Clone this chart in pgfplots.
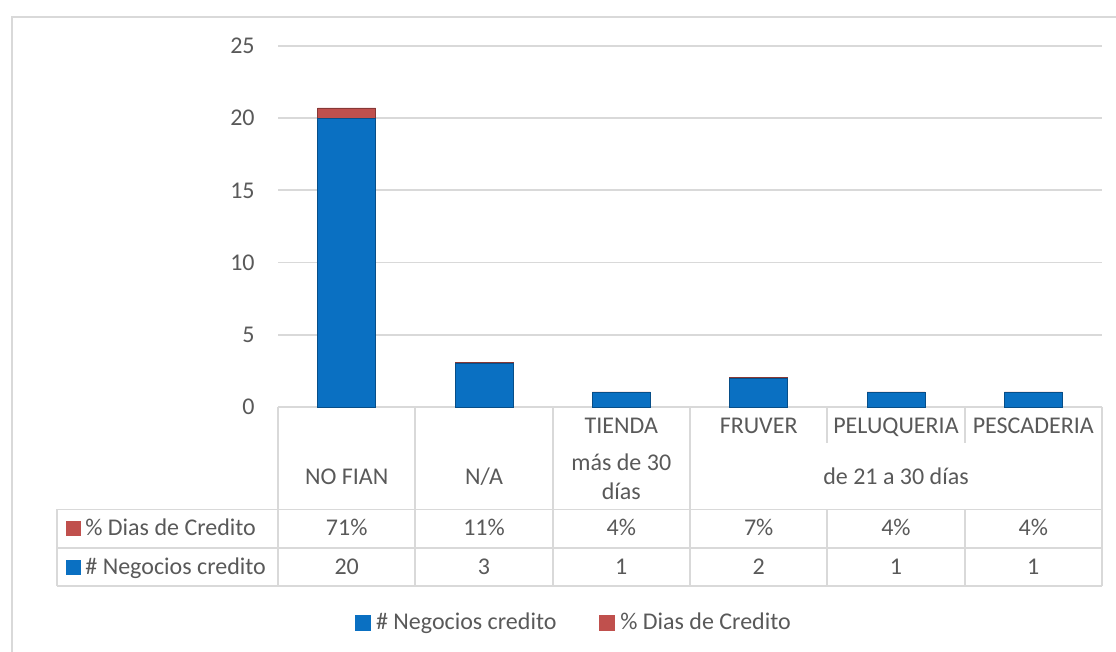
\documentclass[border=0pt]{standalone}
\usepackage{pgfplots}
\pgfplotsset{compat=1.18}
\usepackage{fontspec}
\setmainfont{Carlito}
\definecolor{txt}{HTML}{595959}
\definecolor{grd}{HTML}{D9D9D9}
\definecolor{barblue}{HTML}{0A70C2}
\definecolor{barred}{HTML}{C0504D}
\newcommand{\cf}{\fontsize{12bp}{14.5bp}\selectfont}
\begin{document}
\begin{tikzpicture}[font=\cf, text=txt]
\path[use as bounding box] (0,0) rectangle (558bp,326bp);
\begin{axis}[
  at={(139bp,122.5bp)}, anchor=south west,
  scale only axis, width=412bp, height=180.5bp,
  xmin=-0.5, xmax=5.5, ymin=0, ymax=25,
  ybar stacked, bar width=29bp,
  xtick=\empty, ytick={0,5,10,15,20,25},
  ymajorgrids, grid style={grd, line width=0.9bp},
  axis line style={draw=none},
  major tick length=0pt,
  yticklabel style={text=txt, font=\cf, inner sep=0pt, xshift=-11.5bp},
  /pgf/number format/assume math mode=true,
  legend style={draw=none, fill=none, at={(0.358,-0.598)}, anchor=center,
    legend columns=2, font=\cf, text=txt,
    /tikz/every even column/.append style={column sep=21.5bp},
    nodes={inner sep=0pt}},
  clip=false,
]
\addplot[fill=barblue, draw=barblue!70!black, line width=0.4bp,
  legend image code/.code={\fill[barblue] (0bp,-3.75bp) rectangle (7.5bp,3.75bp); \path (10bp,0bp);}]
  coordinates {(0,20) (1,3) (2,1) (3,2) (4,1) (5,1)};
\addlegendentry{\# Negocios credito}
\addplot[fill=barred, draw=barred!70!black, line width=0.4bp,
  legend image code/.code={\fill[barred] (0bp,-3.75bp) rectangle (7.5bp,3.75bp); \path (10bp,0bp);}]
  coordinates {(0,0.71) (1,0.11) (2,0.04) (3,0.07) (4,0.04) (5,0.04)};
\addlegendentry{\% Dias de Credito}
\end{axis}
\begin{scope}[shift={(0bp,326bp)}, x=0.5bp, y=-0.5bp]
  \draw[grd, line width=1bp] (12,652) -- (12,17) -- (1116,17);
  \begin{scope}[grd, line width=0.9bp]
    \draw (57,509.5) -- (1102,509.5);
    \draw (57,548) -- (1102,548);
    \draw (57,586) -- (1102,586);
    \draw (57,509.5) -- (57,586);
    \foreach \x in {278,415.3,552.7,690,1102} \draw (\x,407) -- (\x,586);
    \foreach \x in {827.3,964.7} {\draw (\x,407) -- (\x,443); \draw (\x,509.5) -- (\x,586);}
  \end{scope}
  \begin{scope}[every node/.style={anchor=base, inner sep=0pt}]
  % category header
  \node at (346.7,485) {NO FIAN};
  \node at (484,485) {N/A};
  \node at (621.3,434) {TIENDA};
  \node at (621.3,471) {más de 30};
  \node at (621.3,500) {días};
  \node at (758.7,434) {FRUVER};
  \node at (896,434) {PELUQUERIA};
  \node at (1033.3,434) {PESCADERIA};
  \node at (896,485) {de 21 a 30 días};
  % values
  \foreach \x/\p/\n in {346.7/71/20, 484/11/3, 621.3/4/1, 758.7/7/2, 896/4/1, 1033.3/4/1} {
    \node at (\x,536) {\p\%};
    \node at (\x,575) {\n};
  }
  % row labels
  \node[anchor=base west] at (85,536) {\% Dias de Credito};
  \node[anchor=base west] at (85,575) {\# Negocios credito};
  \end{scope}
  \fill[barred] (66,521) rectangle (81,536);
  \fill[barblue] (66,560) rectangle (81,575);
\end{scope}
\end{tikzpicture}
\end{document}
